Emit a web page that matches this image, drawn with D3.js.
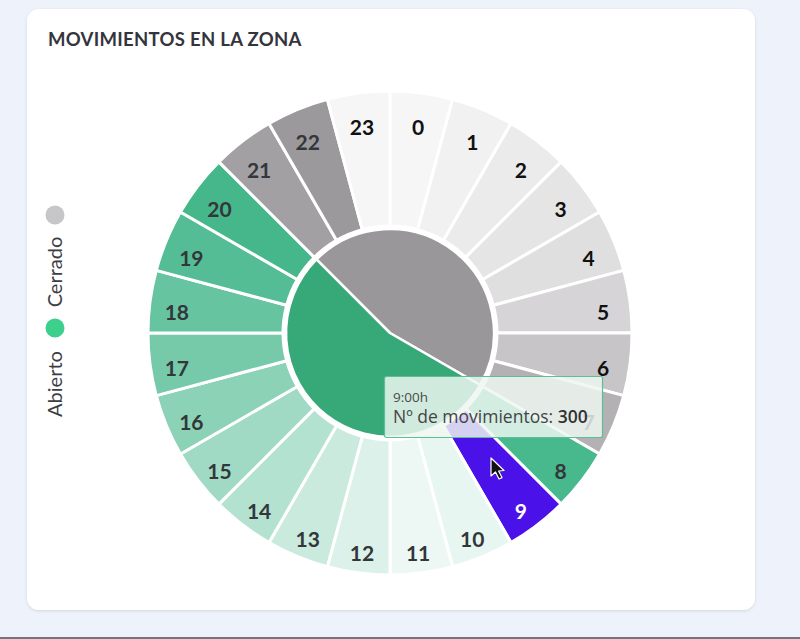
<!DOCTYPE html>
<html><head><meta charset="utf-8">
<script src="https://cdn.jsdelivr.net/npm/d3@7"></script>
<style>html,body{margin:0;padding:0;background:#eef2fa;overflow:hidden}</style>
</head><body>
<svg id="c" width="800" height="639"></svg>
<script>
const title = "MOVIMIENTOS EN LA ZONA";
const hours = [0,1,2,3,4,5,6,7,8,9,10,11,12,13,14,15,16,17,18,19,20,21,22,23];
const movements = [11,16,24,30,38,50,68,92,355,300,45,35,70,105,145,185,225,265,295,330,360,112,120,11];
const status = ["Cerrado","Cerrado","Cerrado","Cerrado","Cerrado","Cerrado","Cerrado","Cerrado",
  "Abierto","Abierto","Abierto","Abierto","Abierto","Abierto","Abierto","Abierto","Abierto","Abierto","Abierto","Abierto","Abierto",
  "Cerrado","Cerrado","Cerrado"];
const legendLabels = ["Abierto","Cerrado"];
const hoveredHour = 9;
const tooltipTitle = "9:00h";
const tooltipLabel = "Nº de movimientos: ";
const tooltipValue = 300;

const svg = d3.select("#c");
const W = 800, H = 639;
svg.append("rect").attr("width",W).attr("height",H).attr("fill","#eef2fa");
svg.append("rect").attr("x",0).attr("y",637).attr("width",W).attr("height",2).attr("fill","#72767c");
const defs = svg.append("defs");
const f = defs.append("filter").attr("id","sh").attr("x","-10%").attr("y","-10%").attr("width","120%").attr("height","130%");
f.append("feDropShadow").attr("dx",0).attr("dy",1).attr("stdDeviation",1.5).attr("flood-color","#000").attr("flood-opacity",0.12);
svg.append("rect").attr("x",27).attr("y",9).attr("width",728).attr("height",601).attr("rx",12)
  .attr("fill","#ffffff").attr("filter","url(#sh)");

svg.append("text").attr("x",48).attr("y",46).text(title)
  .attr("font-family","Lato").attr("font-weight",700).attr("font-size",18.5).attr("letter-spacing",0.3).attr("fill","#34343c");

// legend
const legendColor = {"Abierto":"#3dd08c","Cerrado":"#c6c5c8"};
const legY = {"Abierto":[328,384],"Cerrado":[215,272]};
legendLabels.forEach(l=>{
  svg.append("circle").attr("cx",55).attr("cy",legY[l][0]).attr("r",9.5).attr("fill",legendColor[l]);
  svg.append("text").attr("transform",`translate(62,${legY[l][1]}) rotate(-90)`)
    .attr("text-anchor","middle").attr("font-family","Lato").attr("font-size",20).attr("fill","#3d3d45").text(l);
});

const cx = 390, cy = 333;
const g = svg.append("g").attr("transform",`translate(${cx},${cy})`);
const angle = d3.scaleBand().domain(hours).range([0, 2*Math.PI]);
const bw = angle.bandwidth();
const openMax = 380, closedMax = 122;
const greenScale = d3.scaleLinear().domain([0, openMax]).range(["#ffffff","#3bb385"]);
const grayScale = d3.scaleLinear().domain([0, closedMax]).range(["#ffffff","#9a979b"]);
const data = hours.map((h,i)=>({h, v:movements[i], s:status[i]}));

const arc = d3.arc().innerRadius(107).outerRadius(242);
g.selectAll("path.bar").data(data).join("path").attr("class","bar")
  .attr("d",d=>arc({startAngle:angle(d.h), endAngle:angle(d.h)+bw}))
  .attr("fill",d=> d.h===hoveredHour ? "#4a12e8" : (d.s==="Abierto"? greenScale(d.v): grayScale(d.v)))
  .attr("stroke","#ffffff").attr("stroke-width",3).attr("stroke-linejoin","round");

// inner pie: open vs closed
const openHours = data.filter(d=>d.s==="Abierto").map(d=>d.h);
const openStart = angle(d3.min(openHours)), openEnd = angle(d3.max(openHours))+bw;
const pieArc = d3.arc().innerRadius(0).outerRadius(104);
g.append("path").attr("d",pieArc({startAngle:openEnd, endAngle:openStart+2*Math.PI}))
  .attr("fill","#9a979b").attr("stroke","#fff").attr("stroke-width",2.5).attr("stroke-linejoin","round");
g.append("path").attr("d",pieArc({startAngle:openStart, endAngle:openEnd}))
  .attr("fill","#37a978").attr("stroke","#fff").attr("stroke-width",2.5).attr("stroke-linejoin","round");

// labels
const lr = 215;
g.selectAll("text.lab").data(data).join("text").attr("class","lab")
  .attr("x",d=>lr*Math.sin(angle(d.h)+bw/2))
  .attr("y",d=>-lr*Math.cos(angle(d.h)+bw/2))
  .attr("dy","0.72em")
  .attr("text-anchor","middle").attr("font-family","Lato").attr("font-weight",700).attr("font-size",21)
  .attr("fill",d=> d.h===hoveredHour ? "#ffffff" : (d.s==="Cerrado" && d.v < 0.85*closedMax ? "#111111" : "#33363a"))
  .text(d=>d.h);

// tooltip
const tt = svg.append("g").attr("transform","translate(384,376)");
tt.append("rect").attr("x",0.5).attr("y",0.5).attr("width",218).attr("height",61).attr("rx",2)
  .attr("fill","rgba(238,247,242,0.84)").attr("stroke","#5cbf95").attr("stroke-width",1.2);
tt.append("text").attr("x",9).attr("y",26).attr("font-family","Open Sans").attr("font-size",13.5).attr("fill","#4a4a4a").text(tooltipTitle);
const t2 = tt.append("text").attr("x",9).attr("y",47).attr("font-family","Open Sans").attr("font-size",17.5).attr("fill","#444");
t2.append("tspan").text(tooltipLabel);
t2.append("tspan").attr("font-weight",600).attr("fill","#333").text(tooltipValue);

// cursor
svg.append("path").attr("transform","translate(491,458)")
  .attr("d","M0,0 L0,18 L4.5,14 L8,21 L11,19.6 L7.6,13 L13,12.5 Z")
  .attr("fill","#111").attr("stroke","#fff").attr("stroke-width",1.2).attr("stroke-linejoin","round");
</script>
</body></html>
